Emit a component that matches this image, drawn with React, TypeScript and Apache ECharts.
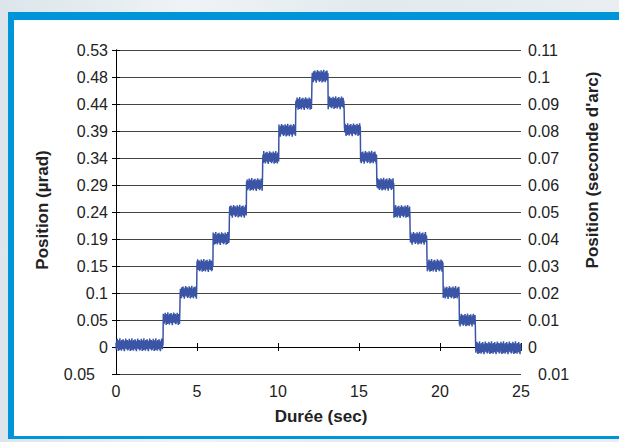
import React, { useEffect, useRef } from "react";
import * as echarts from "echarts";

// Transition times (s) and plateau levels (seconde d'arc)
const stepTimes = [0, 2.92, 3.95, 5.0, 6.0, 7.0, 8.05, 9.05, 10.05, 11.1, 12.1, 13.1, 14.1, 15.1, 16.1, 17.15, 18.15, 19.2, 20.2, 21.2, 22.2];
const levels = [0.0008, 0.0105, 0.0203, 0.0302, 0.0402, 0.0503, 0.0602, 0.0702, 0.0803, 0.0902, 0.1003, 0.0905, 0.0805, 0.0703, 0.0603, 0.0502, 0.0403, 0.0302, 0.0202, 0.0100, -0.0003];
// measurement noise offsets (units of 0.0001 seconde d'arc), hand-typed
const jitter = [8, -18, 14, -6, 22, -12, 4, -23, 17, -3, 11, -20, 24, -8, 13, -17, 3, -22, 18, -10, 7, -15, 21, -4, -18, 12, -24, 8, 16, -12, 23, -7, -16, 11, -3, 18, -21];
const sampleStep = 0.02;
const endTime = 25;

const leftLabels = ["0.05", "0", "0.05", "0.1", "0.15", "0.19", "0.24", "0.29", "0.34", "0.39", "0.44", "0.48", "0.53"];
const rightLabels = ["0.01", "0", "0.01", "0.02", "0.03", "0.04", "0.05", "0.06", "0.07", "0.08", "0.09", "0.1", "0.11"];
const xTicks = [0, 5, 10, 15, 20, 25];

function buildData(): [number, number][] {
  const out: [number, number][] = [];
  const n = Math.round(endTime / sampleStep);
  for (let i = 0; i <= n; i++) {
    const t = i * sampleStep;
    let k = 0;
    for (let j = 0; j < stepTimes.length; j++) if (t >= stepTimes[j]) k = j;
    out.push([t, levels[k] + jitter[i % jitter.length] * 0.0001]);
  }
  return out;
}

const FONT = "'Liberation Sans', Arial, sans-serif";

export default function App() {
  const ref = useRef<HTMLDivElement>(null);
  useEffect(() => {
    if (!ref.current) return;
    const chart = echarts.init(ref.current, null, { renderer: "svg" });
    const axisLine = { show: true, lineStyle: { color: "#000", width: 1 } };
    chart.setOption({
      animation: false,
      backgroundColor: "transparent",
      grid: { left: 116, right: 98, top: 50, bottom: 68 },
      xAxis: [
        {
          type: "value", min: 0, max: 25, interval: 5, position: "bottom",
          axisLine, axisTick: { show: true, inside: true, length: 4, lineStyle: { color: "#000" } },
          axisLabel: { fontFamily: FONT, fontSize: 16, color: "#222", margin: 9, formatter: (v: number) => (xTicks.includes(v) ? String(v) : "") },
          splitLine: { show: false },
        },
        {
          type: "value", min: 0, max: 25, interval: 5, position: "top",
          axisLine, axisTick: { show: true, inside: true, length: 4, lineStyle: { color: "#000" } },
          axisLabel: { show: false }, splitLine: { show: false },
        },
      ],
      yAxis: [
        {
          type: "value", min: -1, max: 11, interval: 1, position: "left",
          axisLine, axisTick: { show: true, inside: true, length: 4, lineStyle: { color: "#000" } },
          axisLabel: {
            fontFamily: FONT, fontSize: 16, color: "#222", margin: 8,
            formatter: (v: number) => {
              const i = Math.round(v) + 1;
              return i === 0 ? "{b|" + leftLabels[0] + "}" : leftLabels[i];
            },
            rich: { b: { fontFamily: FONT, fontSize: 16, color: "#222", padding: [0, 13, 0, 0] } },
          },
          splitLine: { show: true, lineStyle: { color: "#444", width: 1 } },
        },
        {
          type: "value", min: -0.01, max: 0.11, interval: 0.01, position: "right",
          axisLine, axisTick: { show: true, inside: true, length: 4, lineStyle: { color: "#000" } },
          axisLabel: {
            fontFamily: FONT, fontSize: 16, color: "#222", margin: 7,
            formatter: (v: number) => {
              const i = Math.round(v * 100) + 1;
              return i === 0 ? "{b|" + rightLabels[0] + "}" : rightLabels[i];
            },
            rich: { b: { fontFamily: FONT, fontSize: 16, color: "#222", padding: [0, 0, 0, 10] } },
          },
          splitLine: { show: false },
        },
      ],
      graphic: [
        {
          type: "text", x: 321, y: 416,
          style: { text: "Durée (sec)", fontFamily: FONT, fontSize: 17, fontWeight: "bold", fill: "#222", align: "center", verticalAlign: "middle" },
        },
        {
          type: "text", x: 42, y: 210, rotation: Math.PI / 2,
          style: { text: "Position (µrad)", fontFamily: FONT, fontSize: 17, fontWeight: "bold", fill: "#222", align: "center", verticalAlign: "middle" },
        },
        {
          type: "text", x: 592, y: 170, rotation: Math.PI / 2,
          style: { text: "Position (seconde d'arc)", fontFamily: FONT, fontSize: 17, fontWeight: "bold", fill: "#222", align: "center", verticalAlign: "middle" },
        },
      ],
      series: [
        {
          type: "line", xAxisIndex: 0, yAxisIndex: 1, data: buildData(), showSymbol: false,
          lineStyle: { color: "#3a54a6", width: 1.5 }, silent: true,
        },
      ],
    });
    return () => chart.dispose();
  }, []);
  return (
    <div style={{ position: "fixed", left: 0, top: 0, width: 619, height: 442, overflow: "hidden", background: "linear-gradient(90deg, #dbe5eb 0%, #eef3f6 30%, #e2eaef 60%, #e8eef2 100%)" }}>
      <div style={{ position: "absolute", left: 8, top: 12, width: 620, height: 427, background: "#fff", borderTop: "8px solid #0095d9", borderLeft: "6px solid #0095d9", borderBottom: "3px solid #0095d9", boxSizing: "border-box" }} />
      <div ref={ref} style={{ position: "absolute", left: 0, top: 0, width: 619, height: 442 }} />
    </div>
  );
}
